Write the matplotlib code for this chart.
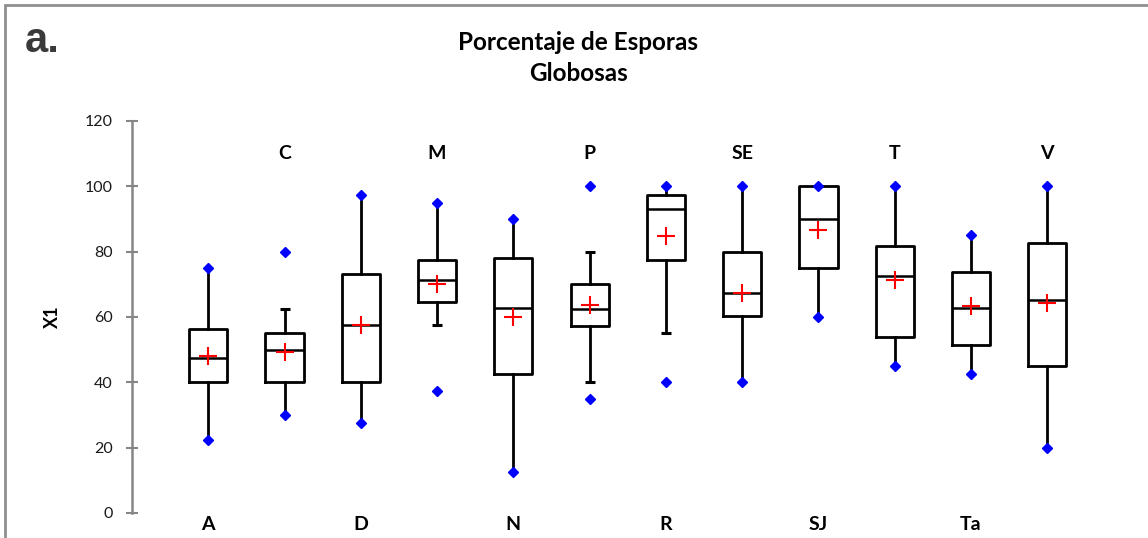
import numpy as np
import matplotlib.pyplot as plt
from matplotlib.patches import Rectangle

# Porcentaje de esporas globosas por localidad
groups = ['A', 'C', 'D', 'M', 'N', 'P', 'R', 'SE', 'SJ', 'T', 'Ta', 'V']
minimum = [22.5, 30, 27.5, 37.5, 12.5, 35, 40, 40, 60, 45, 42.5, 20]
maximum = [75, 80, 97.5, 95, 90, 100, 100, 100, 100, 100, 85, 100]
whisk_lo = [22.5, 30, 27.5, 57.5, 12.5, 40, 55, 40, 60, 45, 42.5, 20]
whisk_hi = [75, 62.5, 97.5, 95, 90, 80, 100, 100, 100, 100, 85, 100]
q1 = [40, 40, 40, 64.5, 42.7, 57.3, 77.5, 60.2, 75, 54, 51.4, 45]
median = [47.5, 50, 57.5, 71.4, 62.7, 62.5, 93.2, 67.5, 90, 72.5, 62.7, 65.1]
q3 = [56.4, 55, 73.2, 77.5, 78.2, 70, 97.5, 80, 100, 81.8, 73.9, 82.6]
mean = [48, 49.3, 57.5, 70, 60, 63.8, 84.9, 67.5, 86.7, 71.2, 63.3, 64.3]

font = ['Lato', 'DejaVu Sans']
plt.rcParams['font.family'] = font

W, H = 1148, 538
fig = plt.figure(figsize=(W / 100, H / 100), dpi=100)

# plot area: y=0 at 513px, y=120 at 121px; group 1 at 208px, axis at 132px
px_per_unit = (513 - 121) / 120
y_bottom = -(H - 513) / px_per_unit
step = (1047 - 208) / 11
x_right = (W - 132) / step
ax = fig.add_axes([132 / W, 0, 1 - 132 / W, (H - 121) / H])
ax.set_ylim(y_bottom, 120)
ax.set_xlim(0, x_right)

pos = np.arange(1, len(groups) + 1)
stats = [dict(med=m, q1=a, q3=b, whislo=lo, whishi=hi, fliers=[], label=g)
         for g, m, a, b, lo, hi in zip(groups, median, q1, q3, whisk_lo, whisk_hi)]
line = dict(color='black', linewidth=2.0)
ax.bxp(stats, positions=pos, widths=0.5, showcaps=False, showfliers=False,
       boxprops=line, whiskerprops=line, medianprops=dict(color='black', linewidth=1.8))

# caps only where the whisker stops short of the extreme value
for x, lo, hi, mn, mx in zip(pos, whisk_lo, whisk_hi, minimum, maximum):
    if lo > mn:
        ax.hlines(lo, x - 0.065, x + 0.065, color='black', linewidth=2.2)
    if hi < mx:
        ax.hlines(hi, x - 0.065, x + 0.065, color='black', linewidth=2.2)

ax.plot(pos, minimum, 'D', color='#0000ff', markersize=5, zorder=4)
ax.plot(pos, maximum, 'D', color='#0000ff', markersize=5, zorder=4)
ax.plot(pos, mean, '+', color='#ff0000', markersize=13, markeredgewidth=1.5, zorder=5)

# group names alternate below and above the boxes
for i, (x, g) in enumerate(zip(pos, groups)):
    y = -3.4 if i % 2 == 0 else 109.9
    ax.text(x, y, g, ha='center', va='center', fontsize=14, fontweight='bold')

for s in ['top', 'right', 'bottom']:
    ax.spines[s].set_visible(False)
ax.spines['left'].set_bounds(0, 120)
ax.spines['left'].set_color('#868686')
ax.spines['left'].set_linewidth(1.8)
ax.set_xticks([])
ax.set_yticks(np.arange(0, 121, 20))
ax.tick_params(axis='y', direction='inout', length=8, width=1.5, color='#868686',
               labelsize=11.5, pad=10, labelcolor='#1a1a1a')

fig.text(52 / W, 1 - 317 / H, 'X1', rotation=90, ha='center', va='center',
         fontsize=13, fontweight='bold')
fig.text(578 / W, 1 - 58 / H, 'Porcentaje de Esporas\nGlobosas', ha='center',
         va='center', fontsize=17.5, fontweight='bold', linespacing=1.4)
fig.text(25 / W, 1 - 52 / H, 'a.', ha='left', va='baseline', fontsize=30,
         fontweight='bold', color='#3a3a3a', family=['Liberation Sans', 'DejaVu Sans'])

# outer frame
fig.add_artist(Rectangle((5 / W, -0.1), 1.2, 1.1 - 5 / H, transform=fig.transFigure,
                         fill=False, edgecolor='#8f8f8f', linewidth=2))

fig.savefig('out.png', dpi=100)
